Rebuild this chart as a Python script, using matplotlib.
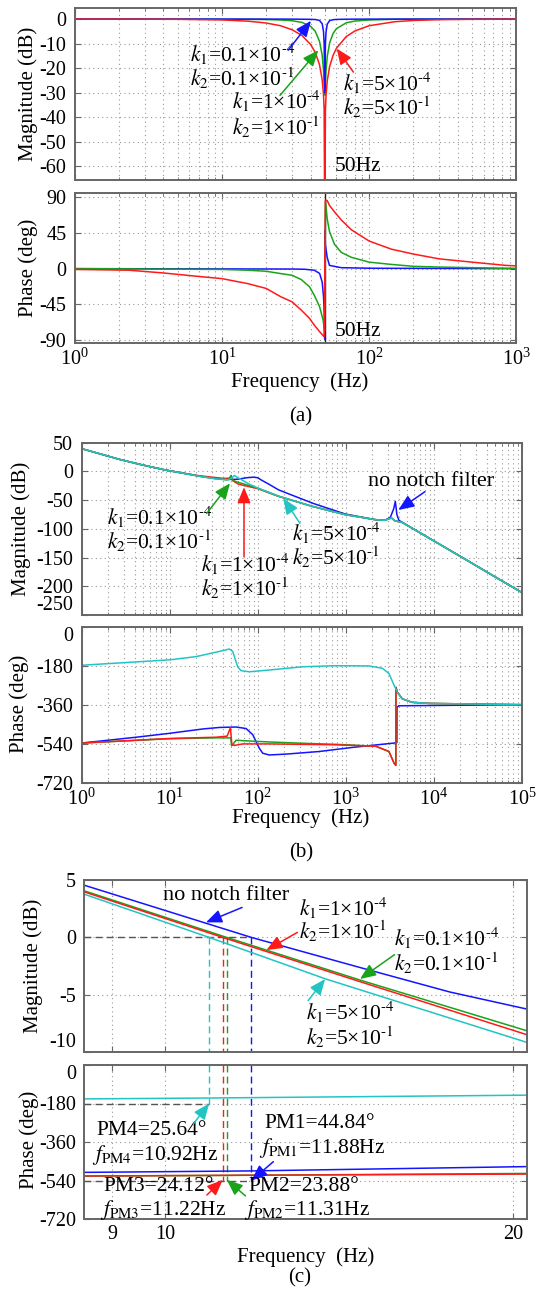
import matplotlib
matplotlib.use('agg')
import matplotlib.pyplot as plt
from matplotlib import ticker

plt.rcParams['font.family'] = ['Liberation Serif', 'DejaVu Serif']
plt.rcParams['mathtext.fontset'] = 'stix'
plt.rcParams['axes.unicode_minus'] = False
plt.rcParams['font.size'] = 15

W, H = 543, 1289
BLUE, RED, GREEN, CYAN, GRAY = '#1414ff', '#ff1a1a', '#1aa31a', '#22c4c4', '#555555'

# ---------------- (a) notch filter alone ----------------
notch_freq = 50
fa_mag = [1, 2, 5, 10, 15, 20, 25, 30, 35, 40, 43, 46, 48, 49, 49.5, 50, 50.5, 51, 52, 54, 57, 60, 70, 80, 100, 150, 200, 300, 500, 1000]
a_mag_red = [0, -0.02, -0.09, -0.35, -0.84, -1.6, -2.7, -4.35, -6.7, -10.3, -13.5, -18.5, -24.7, -30.8, -36.9, -90, -36.9, -31, -25, -19.2, -14.7, -11.9, -7.1, -4.86, -2.7, -1.06, -0.57, -0.24, -0.09, -0.02]
a_mag_green = [0, 0, -0.01, -0.04, -0.09, -0.19, -0.36, -0.68, -1.35, -2.9, -4.9, -9.0, -14.7, -20.8, -26.8, -31, -26.8, -20.9, -15.1, -9.6, -5.8, -3.9, -1.5, -0.8, -0.36, -0.07, -0.03, -0.01, 0, 0]
a_mag_blue = [0, 0, 0, 0, 0, 0, 0, -0.02, -0.05, -0.1, -0.17, -0.53, -1.9, -5, -10, -30, -10, -5.2, -2, -0.6, -0.25, -0.13, -0.05, -0.02, 0, 0, 0, 0, 0, 0]

fa_ph_red = [1, 2.34, 3.97, 6.73, 10, 14.9, 20, 25.2, 30, 34.6, 39.4, 42.4, 46.1, 49.5, 50.5, 51.9, 53.8, 58.2, 64.7, 75.7, 100, 142, 200, 300, 500, 845, 1000]
a_ph_red = [-1, -2, -5.4, -9.6, -12.6, -18.8, -25, -35.6, -41.9, -52.3, -62.8, -71.2, -79.5, -86, 86, 86, 79.8, 71.6, 61.4, 49.1, 34.8, 24.5, 18.4, 12.3, 8.2, 4.1, 3.5]
fa_ph_green = [1, 10, 14.9, 20, 25.2, 30, 34.6, 39.4, 42.4, 46.1, 48.7, 49.8, 50.6, 51.9, 53.8, 58.2, 64.7, 75.7, 100, 142, 200, 300, 500, 845, 1000]
a_ph_green = [0, -1, -2, -3.3, -6.3, -8.4, -13.8, -23, -33.5, -48, -65, -78, 85, 63, 47, 30.7, 20.5, 14.3, 8.2, 5.3, 2.9, 2, 1.2, 0.4, 0.3]
fa_ph_blue = [1, 30, 36.5, 42.4, 46.1, 48, 49, 49.7, 49.95, 50.05, 50.5, 51.9, 53.8, 64.7, 100, 1000]
a_ph_blue = [0, -0.5, -0.8, -2, -6, -17, -35, -60, -89, 48, 30, 14.3, 4.1, 1.2, 0.5, 0]

# ---------------- (b) open loop ----------------
fb_mag_cyan = [1, 2.69, 5, 9.06, 23.5, 33.3, 47, 52, 54.5, 58, 66.5, 80, 100, 172, 411, 977, 2138, 2773, 3300, 3600, 4400, 10000, 20000, 50000, 100000]
b_mag_cyan = [39.7, 21, 11, 2.3, -9.3, -12.8, -14.5, -10, -7, -10, -15, -22, -29, -43, -60.6, -75.2, -83.9, -85.1, -81, -86, -89, -121, -148, -184, -211]
fb_mag_green = [1, 2.69, 5, 9.06, 23.5, 33.3, 45, 49, 50, 51, 53, 60, 70, 100, 172, 411, 977, 2138, 2773, 3300, 3600, 4400, 10000, 20000, 50000, 100000]
b_mag_green = [39.7, 21, 11, 2.3, -9.3, -12.8, -14.8, -12, -7, -13, -16, -19, -22, -29, -43, -60.6, -75.2, -83.9, -85.1, -81, -86, -89, -121, -148, -184, -211]
fb_mag_red = [1, 2.69, 5, 9.06, 20, 30, 40, 47, 50, 52, 60, 70, 100, 172, 411, 977, 2138, 2773, 3300, 3600, 4400, 10000, 20000, 50000, 100000]
b_mag_red = [39.7, 21, 11, 2.3, -6.8, -10, -12, -12, -8, -16, -22, -24.5, -30, -43.5, -60.6, -75.2, -83.9, -85.1, -81, -86, -89, -121, -148, -184, -211]
fb_mag_blue = [1, 2.69, 5, 9.06, 23.5, 33.3, 40, 50, 60, 75, 90, 100, 110, 133, 172, 224, 432, 977, 2138, 2773, 3200, 3500, 3650, 3800, 4000, 4400, 10000, 20000, 50000, 100000]
b_mag_blue = [39.7, 21, 11, 2.3, -9, -12, -13, -14, -13.5, -11, -10, -11, -15, -22, -32, -39, -56, -74, -83.9, -85.1, -80, -65, -52, -75, -85, -89, -121, -148, -184, -211]

fb_ph_cyan = [1, 10, 20, 36.8, 47.7, 52, 59.3, 64.7, 80.5, 135, 323, 770, 1837, 2600, 3087, 3540, 3850, 4377, 5650, 8800, 100000]
b_ph_cyan = [-178, -153, -138, -114, -103, -114, -185, -203, -208, -200, -185, -180, -181, -192, -216, -271, -302, -333, -349, -354, -360]
fb_ph_red = [1, 10, 33.8, 45, 49, 50.9, 54.5, 67.6, 135, 770, 2200, 3087, 3540, 3700, 3710, 3850, 4377, 5650, 8800, 100000]
b_ph_red = [-537, -516, -510, -505, -466, -545, -548, -541, -541, -545, -552, -576, -631, -640, -280, -302, -333, -349, -354, -360]
fb_ph_green = [1, 10, 33.8, 49.5, 50.5, 56.9, 67.6, 135, 323, 770, 2200, 3087, 3540, 3700, 3710, 3850, 4377, 5650, 8800, 100000]
b_ph_green = [-537, -517, -513, -513, -550, -524, -526, -532, -538, -543, -552, -576, -631, -640, -280, -302, -333, -349, -354, -360]
fb_ph_blue = [1, 4.2, 10, 23.8, 36.8, 56.9, 73.8, 87.7, 104, 114, 135, 210, 500, 1200, 2840, 3540, 3800, 3810, 4000, 100000]
b_ph_blue = [-537, -510, -492, -472, -465, -463, -470, -498, -560, -584, -592, -588, -576, -557, -541, -537, -535, -372, -365, -360]

# ---------------- (c) zoom around crossover ----------------
fc_mag_blue = [8.51, 11.88, 14.85, 17.64, 20.56]
c_mag_blue = [4.55, 0, -2.7, -4.75, -6.23]
fc_mag_green = [8.51, 11.31, 14.75, 20.56]
c_mag_green = [4.06, 0, -3.71, -8.12]
fc_mag_red = [8.51, 11.22, 14.75, 20.56]
c_mag_red = [3.97, 0, -3.85, -8.46]
fc_mag_cyan = [8.51, 10.92, 13.78, 20.56]
c_mag_cyan = [3.77, 0, -3.62, -9.13]

fc_ph_blue = [8.51, 11.88, 20.56]
c_ph_blue = [-502, -495.16, -475]
fc_ph_green = [8.51, 11.31, 20.56]
c_ph_green = [-519.5, -516.12, -507]
fc_ph_red = [8.51, 11.22, 20.56]
c_ph_red = [-519, -515.88, -510]
fc_ph_cyan = [8.51, 10.92, 20.56]
c_ph_cyan = [-158.5, -154.36, -141]

pm_freqs = [11.88, 11.31, 11.22, 10.92]       # blue, green, red, cyan
pm_refs = [-540, -540, -540, -180]
pm_colors = [BLUE, GREEN, RED, CYAN]
c_xticks = [9, 10, 20]
c_xticklabels = ['9', '10', '20']

fig = plt.figure(figsize=(W / 100, H / 100), dpi=100)


def add_axes(l, r, t, b):
    return fig.add_axes([l / W, 1 - b / H, (r - l) / W, (b - t) / H])


def fig_text(x, y, s, **kw):
    fig.text(x / W, 1 - y / H, s, ha='center', va='center', **kw)


def style(ax, logminor=True):
    ax.set_xscale('log')
    for sp in ax.spines.values():
        sp.set_color('#666666')
        sp.set_linewidth(1.4)
    ax.tick_params(which='both', direction='in', top=True, right=True, colors='#666666',
                   labelcolor='black', labelsize=14.5)
    ax.tick_params(which='major', length=4, pad=6)
    ax.tick_params(which='minor', length=2)
    ax.tick_params(axis='x', pad=4)
    if logminor:
        ax.xaxis.set_major_locator(ticker.LogLocator(base=10, numticks=20))
        ax.xaxis.set_minor_locator(ticker.LogLocator(base=10, subs=range(2, 10), numticks=20))
        ax.xaxis.set_minor_formatter(ticker.NullFormatter())
        ax.xaxis.set_major_formatter(ticker.LogFormatterMathtext())
    ax.grid(True, which='both', axis='x', color='#999999', lw=0.8, ls=(0, (1, 3)))
    ax.grid(True, which='major', axis='y', color='#999999', lw=0.8, ls=(0, (1, 3)))


def arrow(ax, tip, tail, color):
    ax.annotate('', xy=tip, xytext=tail,
                arrowprops=dict(arrowstyle='-|>,head_length=0.6,head_width=0.25', color=color,
                                lw=1.1, mutation_scale=16, shrinkA=0, shrinkB=0))


def label(ax, x, y, s, size=15.5, **kw):
    ax.text(x, y, s, ha='left', va='center', fontsize=size, **kw)


def kk(i, mant, exp):
    return r'$k_%d$=%s×10$^{\text{-}%d}$' % (i, mant, exp)


lw = 1.1

# ---- (a) magnitude
ax = add_axes(74.7, 516.3, 8.3, 180)
style(ax)
ax.plot(fa_mag, a_mag_green, color=GREEN, lw=lw)
ax.plot(fa_mag, a_mag_blue, color=BLUE, lw=lw)
ax.plot(fa_mag, a_mag_red, color=RED, lw=lw)
ax.set_xlim(1, 1000)
ax.set_ylim(-65.6, 4.4)
ax.set_yticks([0, -10, -20, -30, -40, -50, -60])
ax.xaxis.set_major_formatter(ticker.NullFormatter())
label(ax, 6.1, -14.3, kk(1, '0.1', 4))
label(ax, 6.1, -24.2, kk(2, '0.1', 1))
label(ax, 11.8, -33.3, kk(1, '1', 4))
label(ax, 11.8, -43.9, kk(2, '1', 1))
label(ax, 66.5, -26.0, kk(1, '5', 4))
label(ax, 66.5, -36.1, kk(2, '5', 1))
label(ax, 58.2, -59.9, '50Hz')
arrow(ax, (40.3, -0.7), (28.2, -12.7), BLUE)
arrow(ax, (45.2, -12.7), (24.8, -31.1), GREEN)
arrow(ax, (60.2, -12.0), (78.2, -21.6), RED)

# ---- (a) phase
ax = add_axes(74.7, 516.3, 192.7, 343.3)
style(ax)
ax.axvline(notch_freq, color='#222222', lw=1.0)
ax.plot(fa_ph_blue, a_ph_blue, color=BLUE, lw=lw)
ax.plot(fa_ph_green, a_ph_green, color=GREEN, lw=lw)
ax.plot(fa_ph_red, a_ph_red, color=RED, lw=lw)
ax.set_xlim(1, 1000)
ax.set_ylim(-94.2, 95.8)
ax.set_yticks([90, 45, 0, -45, -90])
label(ax, 58.2, -79.5, '50Hz')

fig_text(27.7, 94, 'Magnitude (dB)', rotation=90)
fig_text(27.7, 268, 'Phase (deg)', rotation=90)
fig_text(300, 382, 'Frequency  (Hz)')
fig_text(301, 416.7, '(a)')

# ---- (b) magnitude
ax = add_axes(81.5, 522, 442.7, 615)
style(ax)
ax.plot(fb_mag_blue, b_mag_blue, color=BLUE, lw=lw)
ax.plot(fb_mag_red, b_mag_red, color=RED, lw=lw)
ax.plot(fb_mag_green, b_mag_green, color=GREEN, lw=lw)
ax.plot(fb_mag_cyan, b_mag_cyan, color=CYAN, lw=lw)
ax.set_xlim(1, 1e5)
ax.set_ylim(-250, 50)
ax.set_yticks([50, 0, -50, -100, -150, -200, -250])
ax.xaxis.set_major_formatter(ticker.NullFormatter())
ax.get_yticklabels()[-1].set_va('bottom')
ax.text(9230, -17.9, 'no notch filter', ha='center', va='center', fontsize=16)
arrow(ax, (3945, -67.2), (7920, -35.3), BLUE)
label(ax, 1.93, -80.0, kk(1, '0.1', 4))
label(ax, 1.93, -122.0, kk(2, '0.1', 1))
arrow(ax, (48.5, -20.7), (26.4, -73), GREEN)
label(ax, 22.5, -162, kk(1, '1', 4))
label(ax, 22.5, -204, kk(2, '1', 1))
arrow(ax, (69.9, -27.5), (69.9, -148.5), RED)
label(ax, 243, -107.0, kk(1, '5', 4))
label(ax, 243, -150.0, kk(2, '5', 1))
arrow(ax, (195, -46.8), (302, -90.4), CYAN)

# ---- (b) phase
ax = add_axes(81.5, 522, 626.7, 782.7)
style(ax)
ax.plot(fb_ph_blue, b_ph_blue, color=BLUE, lw=lw)
ax.plot(fb_ph_green, b_ph_green, color=GREEN, lw=lw)
ax.plot(fb_ph_red, b_ph_red, color=RED, lw=lw)
ax.plot(fb_ph_cyan, b_ph_cyan, color=CYAN, lw=lw)
ax.set_xlim(1, 1e5)
ax.set_ylim(-720, 0)
ax.set_yticks([0, -180, -360, -540, -720])
ax.get_yticklabels()[0].set_va('top')

fig_text(20.8, 529, 'Magnitude (dB)', rotation=90)
fig_text(19, 704, 'Phase (deg)', rotation=90)
fig_text(301, 818, 'Frequency  (Hz)')
fig_text(301, 853.3, '(b)')

# ---- (c) magnitude
dash = (0, (5, 3))
ax = add_axes(84.1, 526.6, 880, 1052.3)
style(ax, logminor=False)
ax.xaxis.set_major_locator(ticker.FixedLocator(c_xticks))
ax.xaxis.set_minor_locator(ticker.NullLocator())
ax.xaxis.set_major_formatter(ticker.NullFormatter())
ax.plot([8.51, pm_freqs[0]], [0, 0], color=GRAY, lw=1, ls=dash)
for f, c in zip(pm_freqs, pm_colors):
    ax.plot([f, f], [0, -10], color=c, lw=1, ls=dash)
ax.plot(fc_mag_blue, c_mag_blue, color=BLUE, lw=lw)
ax.plot(fc_mag_cyan, c_mag_cyan, color=CYAN, lw=lw)
ax.plot(fc_mag_green, c_mag_green, color=GREEN, lw=lw)
ax.plot(fc_mag_red, c_mag_red, color=RED, lw=lw)
ax.set_xlim(8.51, 20.56)
ax.set_ylim(-10, 5)
ax.set_yticks([5, 0, -5, -10])
ax.get_yticklabels()[-1].set_va('bottom')
ax.text(11.3, 3.63, 'no notch filter', ha='center', va='center', fontsize=16)
arrow(ax, (10.85, 1.31), (11.66, 2.61), BLUE)
label(ax, 13.07, 2.58, kk(1, '1', 4))
label(ax, 13.07, 0.52, kk(2, '1', 1))
arrow(ax, (12.24, -1.1), (13.02, 0.44), RED)
label(ax, 15.8, -0.11, kk(1, '0.1', 4))
label(ax, 15.8, -2.25, kk(2, '0.1', 1))
arrow(ax, (14.75, -3.62), (15.8, -1.5), GREEN)
label(ax, 13.25, -6.5, kk(1, '5', 4))
label(ax, 13.25, -8.7, kk(2, '5', 1))
arrow(ax, (13.76, -3.62), (13.3, -5.5), CYAN)

# ---- (c) phase
ax = add_axes(84.1, 526.6, 1065, 1219)
style(ax, logminor=False)
ax.xaxis.set_major_locator(ticker.FixedLocator(c_xticks))
ax.xaxis.set_minor_locator(ticker.NullLocator())
ax.xaxis.set_major_formatter(ticker.FixedFormatter(c_xticklabels))
ax.plot([8.51, pm_freqs[3]], [-180, -180], color=GRAY, lw=1, ls=dash)
ax.plot([8.51, pm_freqs[0]], [-540, -540], color=GRAY, lw=1, ls=dash)
for f, r, c in zip(pm_freqs, pm_refs, pm_colors):
    ax.plot([f, f], [0, r], color=c, lw=1, ls=dash)
ax.plot(fc_ph_cyan, c_ph_cyan, color=CYAN, lw=lw)
ax.plot(fc_ph_blue, c_ph_blue, color=BLUE, lw=lw)
ax.plot(fc_ph_green, c_ph_green, color=GREEN, lw=lw)
ax.plot(fc_ph_red, c_ph_red, color=RED, lw=lw)
ax.set_xlim(8.51, 20.56)
ax.set_ylim(-720, 0)
ax.set_yticks([0, -180, -360, -540, -720])
ax.get_yticklabels()[0].set_va('top')
label(ax, 8.73, -303.9, 'PM4=25.64°')
label(ax, 8.64, -420.8, r'$f_{\mathrm{PM4}}$=10.92Hz')
arrow(ax, (pm_freqs[3], -180), (10.59, -272.6), CYAN)
label(ax, 12.2, -272.6, 'PM1=44.84°')
label(ax, 12.07, -389.4, r'$f_{\mathrm{PM1}}$=11.88Hz')
arrow(ax, (pm_freqs[0], -540), (12.41, -452), BLUE)
label(ax, 8.85, -569, 'PM3=24.12°')
label(ax, 8.79, -678, r'$f_{\mathrm{PM3}}$=11.22Hz')
arrow(ax, (pm_freqs[2], -537), (10.87, -607.8), RED)
label(ax, 11.82, -569, 'PM2=23.88°')
label(ax, 11.7, -678, r'$f_{\mathrm{PM2}}$=11.31Hz')
arrow(ax, (pm_freqs[1], -537), (11.74, -612), GREEN)

fig_text(32.9, 966, 'Magnitude (dB)', rotation=90)
fig_text(29.4, 1140, 'Phase (deg)', rotation=90)
fig_text(306, 1256.7, 'Frequency  (Hz)')
fig_text(300, 1278.3, '(c)')

fig.savefig('out.png', dpi=100)
